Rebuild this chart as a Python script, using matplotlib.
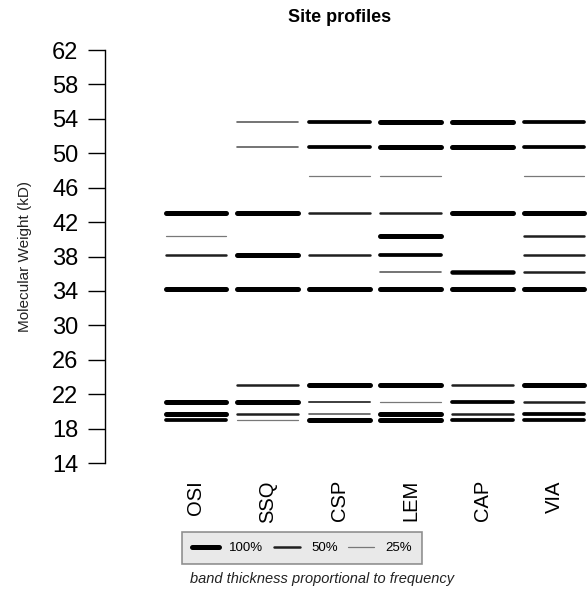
import matplotlib
matplotlib.use("Agg")
import matplotlib.pyplot as plt
from matplotlib.lines import Line2D
import numpy as np

plt.rcParams['font.family'] = ['Liberation Sans', 'DejaVu Sans']

sites = ["OSI", "SSQ", "CSP", "LEM", "CAP", "VIA"]

# band molecular weights (kD) and their frequency at each site
osi_mw = [43.0, 40.4, 38.2, 34.2, 21.1, 19.7, 19.0]
osi_fr = [1.0, 0.25, 0.5, 1.0, 1.0, 1.0, 0.75]
ssq_mw = [53.6, 50.7, 43.0, 38.2, 34.2, 23.1, 21.1, 19.7, 19.0]
ssq_fr = [0.33, 0.33, 1.0, 1.0, 1.0, 0.5, 1.0, 0.5, 0.25]
csp_mw = [53.6, 50.7, 47.4, 43.0, 38.2, 34.2, 23.1, 21.1, 19.7, 19.0]
csp_fr = [0.75, 0.75, 0.25, 0.5, 0.5, 1.0, 1.0, 0.4, 0.33, 1.0]
lem_mw = [53.6, 50.7, 47.4, 43.0, 40.4, 38.2, 36.2, 34.2, 23.1, 21.1, 19.7, 19.0]
lem_fr = [1.0, 1.0, 0.25, 0.5, 1.0, 0.75, 0.33, 1.0, 1.0, 0.25, 1.0, 1.0]
cap_mw = [53.6, 50.7, 43.0, 36.2, 34.2, 23.1, 21.1, 19.7, 19.0]
cap_fr = [1.0, 1.0, 1.0, 0.9, 1.0, 0.5, 0.75, 0.5, 0.75]
via_mw = [53.6, 50.7, 47.4, 43.0, 40.4, 38.2, 36.2, 34.2, 23.1, 21.1, 19.7, 19.0]
via_fr = [0.75, 0.75, 0.25, 1.0, 0.5, 0.5, 0.5, 1.0, 1.0, 0.5, 0.75, 0.75]

profiles = [(osi_mw, osi_fr), (ssq_mw, ssq_fr), (csp_mw, csp_fr),
            (lem_mw, lem_fr), (cap_mw, cap_fr), (via_mw, via_fr)]

legend_fr = [1.0, 0.5, 0.25]
legend_lab = ["100%", "50%", "25%"]

y_ticks = np.arange(14, 63, 4)


def band_width(f):
    return 3.6 * f


def band_color(f):
    g = float(np.clip(0.82 - 1.4 * f, 0, 1))
    return (g, g, g)


fig = plt.figure(figsize=(5.88, 5.98), dpi=100)
ax = fig.add_axes([105 / 588, 1 - 463 / 598, 1 - 105 / 588, (463 - 50) / 598])

half = 0.425
for i, (mw, fr) in enumerate(profiles):
    lc = ax.hlines(mw, i - half, i + half,
                   linewidths=[band_width(f) for f in fr],
                   colors=[band_color(f) for f in fr])
    lc.set_capstyle("round")

ax.set_xlim(-1.27, 5.475)
ax.set_ylim(14, 62)
ax.set_yticks(y_ticks)
ax.tick_params(axis="y", labelsize=17, length=12, width=1, pad=7)
ax.set_xticks([])
for s in ["top", "right", "bottom"]:
    ax.spines[s].set_visible(False)
ax.spines["left"].set_linewidth(1)

# site names below the profiles
for i, name in enumerate(sites):
    ax.text(i, 14 - 2.0, name, rotation=90, ha="center", va="top", fontsize=14.5)

fig.text(25 / 588, 1 - 257 / 598, "Molecular Weight (kD)", rotation=90,
         ha="center", va="center", fontsize=11, color="#222222")
fig.text(340 / 588, 1 - 17 / 598, "Site profiles", ha="center", va="center",
         fontsize=13, fontweight="bold")

handles = [Line2D([0], [0], lw=band_width(f), color=band_color(f),
                  solid_capstyle="round") for f in legend_fr]
leg = fig.legend(handles, legend_lab, loc="center", ncol=3,
                 bbox_to_anchor=(302 / 588, 1 - 548 / 598), fontsize=9.5,
                 frameon=True, fancybox=False, handlelength=2.0,
                 columnspacing=0.8, handletextpad=0.8, borderpad=0.75)
leg.get_frame().set_facecolor("#e4e4e4")
leg.get_frame().set_edgecolor("#777777")
leg.get_frame().set_linewidth(1.2)

fig.text(322 / 588, 1 - 579 / 598, "band thickness proportional to frequency",
         ha="center", va="center", fontsize=10.5, style="italic", color="#222222")

fig.savefig("out.png", dpi=100)
